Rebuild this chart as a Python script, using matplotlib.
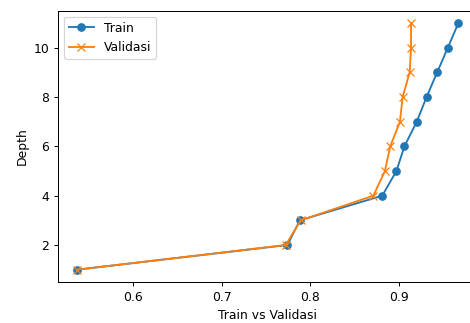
import matplotlib
matplotlib.use('Agg')
import matplotlib.pyplot as plt

depth = [1, 2, 3, 4, 5, 6, 7, 8, 9, 10, 11]
train = [0.5365, 0.774, 0.788, 0.881, 0.897, 0.906, 0.920, 0.931, 0.943, 0.955, 0.967]
validasi = [0.5365, 0.772, 0.789, 0.871, 0.884, 0.890, 0.901, 0.904, 0.912, 0.9135, 0.9135]

dpi = 89
fig = plt.figure(figsize=(470 / dpi, 323 / dpi), dpi=dpi)
ax = fig.add_axes([58 / 470, 41 / 323, (477.5 - 58) / 470, (282 - 10.7) / 323])

ax.plot(train, depth, marker='o', label='Train')
ax.plot(validasi, depth, marker='x', label='Validasi')
ax.set_xlabel('Train vs Validasi')
ax.set_ylabel('Depth')
ax.legend(loc='upper left')

fig.savefig('out.png', dpi=dpi)
